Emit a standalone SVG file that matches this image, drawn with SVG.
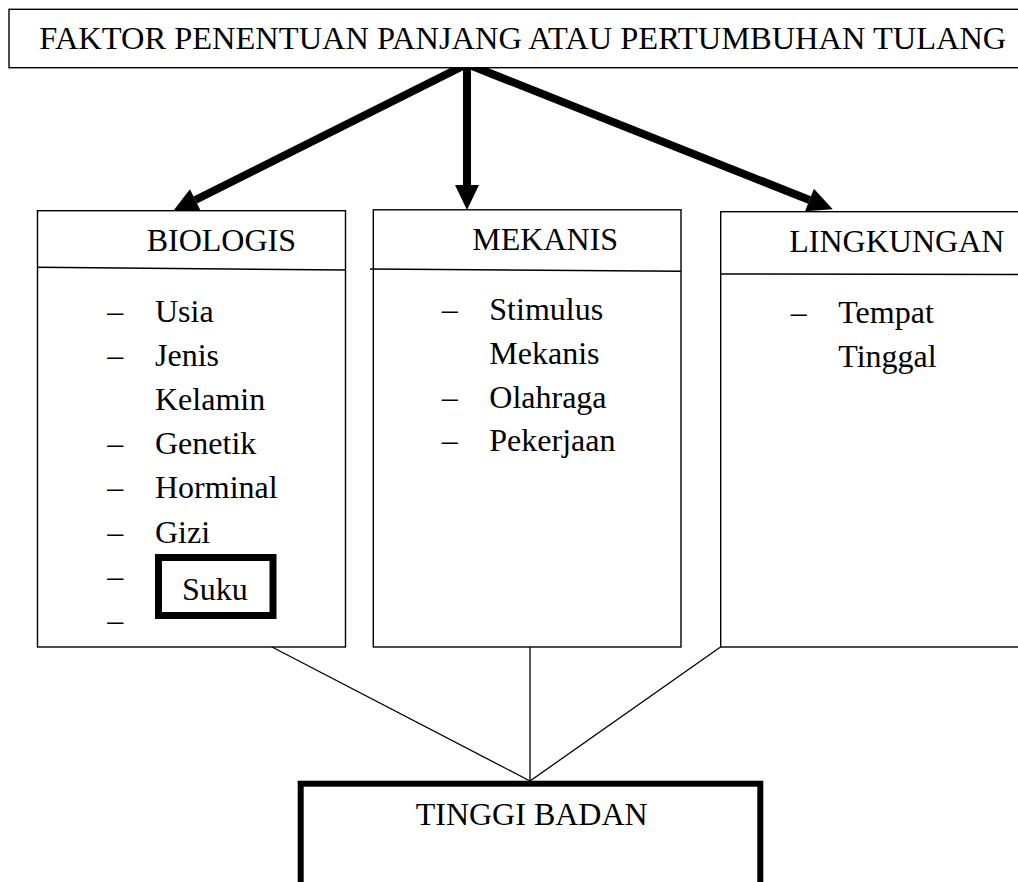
<svg xmlns="http://www.w3.org/2000/svg" width="1018" height="882" viewBox="0 0 1018 882">
<style>
  text { font-family: "Liberation Serif", "Times New Roman", serif; font-size: 32px; fill: #000; }
  .box { fill: #fff; stroke: #000; stroke-width: 1.4; }
  .div { stroke: #000; stroke-width: 1.4; fill: none; }
  .thick { fill: #fff; stroke: #000; stroke-width: 6; }
  .arrow { stroke: #000; stroke-width: 8; fill: none; marker-end: url(#head); }
  .link { stroke: #000; stroke-width: 1.3; fill: none; }
</style>
<defs>
  <marker id="head" markerUnits="userSpaceOnUse" markerWidth="26" markerHeight="26" refX="0" refY="12" orient="auto" overflow="visible">
    <path d="M0,0 L25,12 L0,24 Z" fill="#000"/>
  </marker>
</defs>
<rect width="1018" height="882" fill="#fff"/>

<g id="connectors">
  <line class="arrow" x1="467" y1="64" x2="195.3" y2="200"/>
  <line class="arrow" x1="467" y1="64" x2="467" y2="185"/>
  <line class="arrow" x1="467" y1="64" x2="809.5" y2="200"/>
  <line class="link" x1="272" y1="647" x2="530" y2="781"/>
  <line class="link" x1="530" y1="647" x2="530" y2="781"/>
  <line class="link" x1="720.5" y1="647" x2="530" y2="781"/>
</g>

<g id="node-faktor">
  <rect class="box" x="9" y="9.3" width="1030" height="58.4"/>
  <text x="39.3" y="49" textLength="967" lengthAdjust="spacingAndGlyphs">FAKTOR PENENTUAN PANJANG ATAU PERTUMBUHAN TULANG</text>
</g>

<g id="node-biologis">
  <rect class="box" x="37.5" y="210.7" width="308" height="436.3"/>
  <line class="div" x1="37.5" y1="267.3" x2="345.5" y2="270"/>
  <text x="146.7" y="250.7">BIOLOGIS</text>
  <text x="107.3" y="321.5">–</text><text x="155" y="321.5">Usia</text>
  <text x="107.3" y="365.7">–</text><text x="155" y="365.7">Jenis</text>
  <text x="155" y="409.9">Kelamin</text>
  <text x="107.3" y="454.1">–</text><text x="155" y="454.1">Genetik</text>
  <text x="107.3" y="498.3">–</text><text x="155" y="498.3">Horminal</text>
  <text x="107.3" y="542.5">–</text><text x="155" y="542.5">Gizi</text>
  <text x="107.3" y="586.7">–</text>
  <text x="107.3" y="630.9">–</text>
</g>

<g id="node-suku">
  <rect x="158.5" y="557.5" width="114.5" height="58" fill="#fff" stroke="#000" stroke-width="7"/>
  <text x="182" y="600">Suku</text>
</g>

<g id="node-mekanis">
  <rect class="box" x="373.3" y="209.8" width="307.7" height="437.2"/>
  <line class="div" x1="370" y1="269" x2="681" y2="271.3"/>
  <text x="472.3" y="250">MEKANIS</text>
  <text x="441.7" y="320">–</text><text x="489.3" y="320">Stimulus</text>
  <text x="489.3" y="364">Mekanis</text>
  <text x="441.7" y="407.5">–</text><text x="489.3" y="407.5">Olahraga</text>
  <text x="441.7" y="451">–</text><text x="489.3" y="451">Pekerjaan</text>
</g>

<g id="node-lingkungan">
  <rect class="box" x="720.7" y="211.7" width="330" height="435.3"/>
  <line class="div" x1="720.7" y1="274" x2="1018" y2="274.5"/>
  <text x="789.3" y="251.7">LINGKUNGAN</text>
  <text x="790.7" y="323.3">–</text><text x="838.3" y="323.3">Tempat</text>
  <text x="838.3" y="366.7">Tinggal</text>
</g>

<g id="node-tinggi">
  <rect class="thick" x="300.7" y="783.7" width="459.6" height="130"/>
  <text x="415.7" y="825">TINGGI BADAN</text>
</g>
</svg>
